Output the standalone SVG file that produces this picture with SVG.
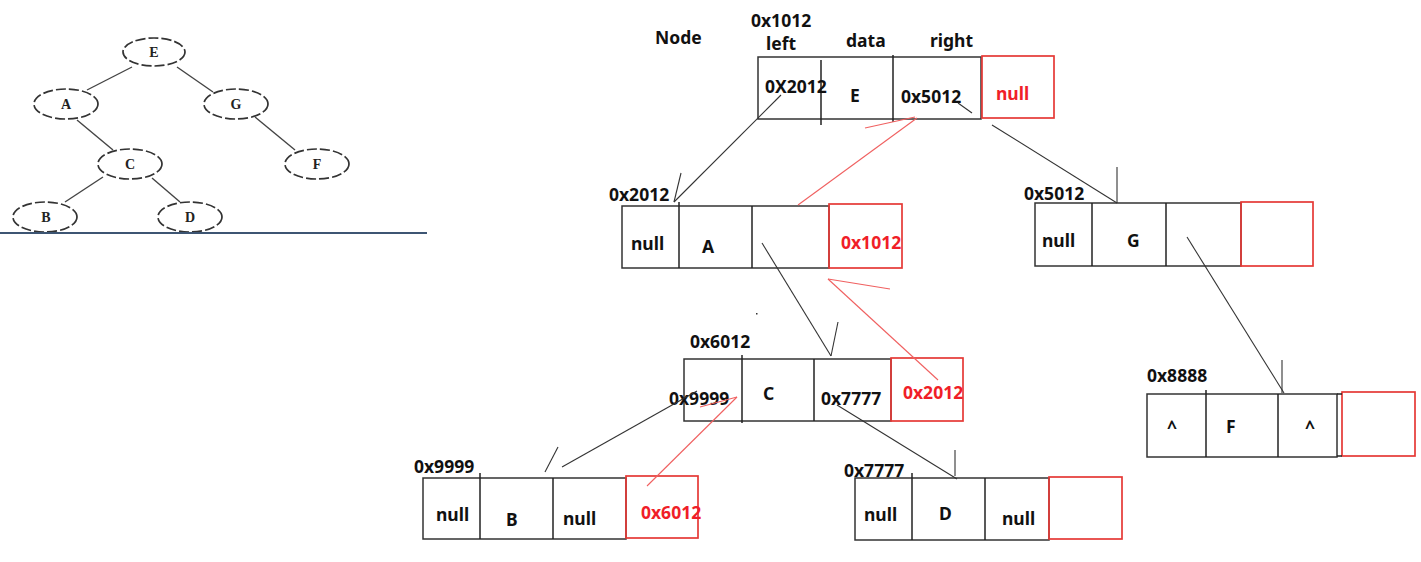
<svg xmlns="http://www.w3.org/2000/svg" width="1421" height="562" viewBox="0 0 1421 562">
<style>
.tn{fill:#fff;stroke:#333;stroke-width:1.7;stroke-dasharray:10 3}
.te{stroke:#444;stroke-width:1.4;fill:none}
.tl{font-family:"Liberation Serif",serif;font-size:14px;font-weight:700;fill:#222;text-anchor:middle}
.bx{fill:#fff;stroke:#333;stroke-width:1.5}
.dv{stroke:#222;stroke-width:1.5}
.rb{fill:none;stroke:#e53935;stroke-width:1.7}
.t{font-family:"Noto Sans","Liberation Sans",sans-serif;font-weight:700;font-size:17.5px;fill:#111}
.r{fill:#f01e28}
.k{stroke:#333;stroke-width:1.1;fill:none}
.rl{stroke:#f06060;stroke-width:1.1;fill:none}
</style>
<rect width="1421" height="562" fill="#fff"/>

<g id="tree">
  <g id="tree-edges">
    <line class="te" x1="132" y1="67" x2="87" y2="90"/>
    <line class="te" x1="177" y1="67" x2="213" y2="92"/>
    <line class="te" x1="77" y1="120" x2="113" y2="150"/>
    <line class="te" x1="255" y1="117" x2="295" y2="150"/>
    <line class="te" x1="103" y1="177" x2="65" y2="202"/>
    <line class="te" x1="152" y1="178" x2="180" y2="202"/>
  </g>
  <g id="t-E"><ellipse class="tn" cx="154" cy="52" rx="31" ry="14"/><text class="tl" x="154" y="57">E</text></g>
  <g id="t-A"><ellipse class="tn" cx="66" cy="104" rx="32" ry="15"/><text class="tl" x="66" y="109">A</text></g>
  <g id="t-G"><ellipse class="tn" cx="236" cy="104" rx="32" ry="15"/><text class="tl" x="236" y="109">G</text></g>
  <g id="t-C"><ellipse class="tn" cx="130" cy="164" rx="32" ry="15"/><text class="tl" x="130" y="169">C</text></g>
  <g id="t-F"><ellipse class="tn" cx="317" cy="164" rx="32" ry="15"/><text class="tl" x="317" y="169">F</text></g>
  <g id="t-B"><ellipse class="tn" cx="45" cy="217" rx="32" ry="15"/><text class="tl" x="46" y="222">B</text></g>
  <g id="t-D"><ellipse class="tn" cx="190" cy="217" rx="32" ry="15"/><text class="tl" x="190" y="222">D</text></g>
  <line x1="0" y1="233" x2="427" y2="233" stroke="#3d5573" stroke-width="2"/>
</g>

<g id="header">
  <text class="t" x="655" y="44">Node</text>
  <text class="t" x="751" y="27" font-size="16">0x1012</text>
  <text class="t" x="766" y="50" font-size="16">left</text>
  <text class="t" x="846" y="47">data</text>
  <text class="t" x="930" y="47">right</text>
</g>

<g id="node-E">
  <rect class="bx" x="758" y="57" width="223" height="62"/>
  <line class="dv" x1="821" y1="60" x2="821" y2="125"/>
  <line class="dv" x1="893" y1="55" x2="893" y2="122"/>
  <rect class="rb" x="982" y="56" width="72" height="62" fill="#fff"/>
  <text class="t" x="765" y="93">0X2012</text>
  <text class="t" x="850" y="102">E</text>
  <text class="t" x="901" y="103">0x5012</text>
  <text class="t r" x="996" y="100">null</text>
</g>

<g id="node-A">
  <rect class="bx" x="622" y="206" width="207" height="62"/>
  <line class="dv" x1="679" y1="202" x2="679" y2="268"/>
  <line class="dv" x1="752" y1="206" x2="752" y2="268"/>
  <rect class="rb" x="829" y="204" width="73" height="64"/>
  <text class="t" x="609" y="201">0x2012</text>
  <text class="t" x="631" y="250">null</text>
  <text class="t" x="702" y="253">A</text>
  <text class="t r" x="841" y="249">0x1012</text>
</g>

<g id="node-G">
  <rect class="bx" x="1035" y="203" width="206" height="63"/>
  <line class="dv" x1="1092" y1="203" x2="1092" y2="266"/>
  <line class="dv" x1="1166" y1="203" x2="1166" y2="266"/>
  <rect class="rb" x="1241" y="202" width="72" height="64"/>
  <text class="t" x="1024" y="200">0x5012</text>
  <text class="t" x="1042" y="247">null</text>
  <text class="t" x="1127" y="247">G</text>
</g>

<g id="node-C">
  <rect class="bx" x="684" y="359" width="207" height="62"/>
  <line class="dv" x1="742" y1="355" x2="742" y2="423"/>
  <line class="dv" x1="814" y1="359" x2="814" y2="421"/>
  <rect class="rb" x="891" y="358" width="72" height="63"/>
  <text class="t" x="690" y="348">0x6012</text>
  <text class="t" x="669" y="405">0x9999</text>
  <text class="t" x="763" y="400">C</text>
  <text class="t" x="821" y="405">0x7777</text>
  <text class="t r" x="903" y="399">0x2012</text>
</g>

<g id="node-B">
  <rect class="bx" x="423" y="478" width="203" height="61"/>
  <line class="dv" x1="480" y1="473" x2="480" y2="539"/>
  <line class="dv" x1="553" y1="478" x2="553" y2="539"/>
  <rect class="rb" x="626" y="476" width="72" height="62"/>
  <text class="t" x="414" y="473">0x9999</text>
  <text class="t" x="436" y="521">null</text>
  <text class="t" x="506" y="526">B</text>
  <text class="t" x="563" y="525">null</text>
  <text class="t r" x="641" y="519">0x6012</text>
</g>

<g id="node-D">
  <rect class="bx" x="855" y="478" width="194" height="62"/>
  <line class="dv" x1="912" y1="473" x2="912" y2="540"/>
  <line class="dv" x1="985" y1="478" x2="985" y2="540"/>
  <rect class="rb" x="1049" y="477" width="73" height="62"/>
  <text class="t" x="844" y="477">0x7777</text>
  <text class="t" x="864" y="521">null</text>
  <text class="t" x="939" y="520">D</text>
  <text class="t" x="1002" y="525">null</text>
</g>

<g id="node-F">
  <rect class="bx" x="1147" y="394" width="190" height="63"/>
  <line class="dv" x1="1206" y1="390" x2="1206" y2="457"/>
  <line class="dv" x1="1278" y1="394" x2="1278" y2="457"/>
  <rect class="rb" x="1342" y="392" width="73" height="64"/>
  <line class="dv" x1="1337" y1="394" x2="1342" y2="394"/>
  <line class="dv" x1="1337" y1="456" x2="1342" y2="456"/>
  <text class="t" x="1147" y="382">0x8888</text>
  <text class="t" x="1167" y="434" font-size="15">^</text>
  <text class="t" x="1226" y="433">F</text>
  <text class="t" x="1305" y="434" font-size="15">^</text>
</g>

<g id="connectors">
  <line class="k" x1="781" y1="95" x2="674" y2="202"/>
  <line class="k" x1="681" y1="173" x2="674" y2="202"/>
  <line class="k" x1="958" y1="103" x2="972" y2="113"/>
  <line class="k" x1="992" y1="125" x2="1117" y2="203"/>
  <line class="k" x1="1117" y1="167" x2="1117" y2="203"/>
  <line class="rl" x1="798" y1="205" x2="917" y2="118"/>
  <line class="rl" x1="865" y1="128" x2="915" y2="117"/>
  <line class="k" x1="762" y1="243" x2="831" y2="356"/>
  <line class="k" x1="838" y1="322" x2="831" y2="356"/>
  <line class="rl" x1="938" y1="380" x2="828" y2="279"/>
  <line class="rl" x1="828" y1="279" x2="890" y2="289"/>
  <line class="k" x1="562" y1="467" x2="697" y2="391"/>
  <line class="k" x1="545" y1="472" x2="558" y2="447"/>
  <line class="rl" x1="647" y1="486" x2="737" y2="397"/>
  <line class="rl" x1="700" y1="407" x2="737" y2="397"/>
  <line class="k" x1="837" y1="405" x2="957" y2="479"/>
  <line class="k" x1="955" y1="450" x2="955" y2="476"/>
  <line class="k" x1="1187" y1="237" x2="1284" y2="393"/>
  <line class="k" x1="1282" y1="360" x2="1282" y2="393"/>
  <rect x="756" y="313" width="1.5" height="1.5" fill="#333"/>
</g>
</svg>
